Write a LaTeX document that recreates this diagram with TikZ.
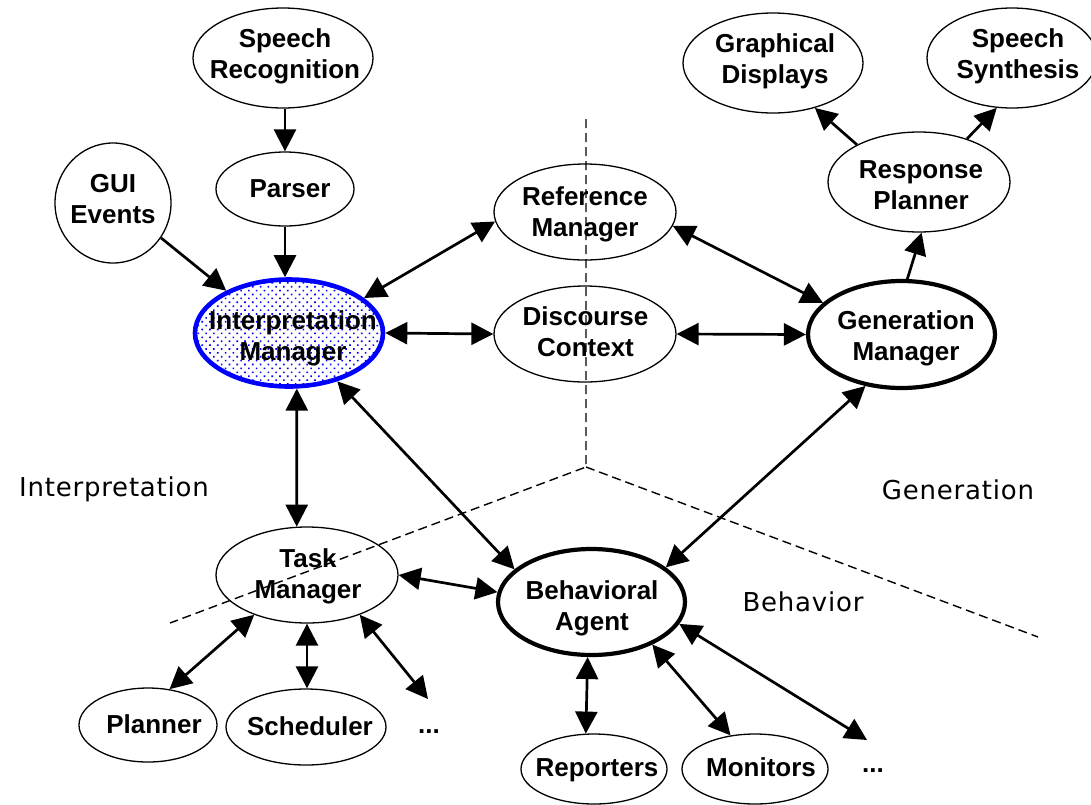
\documentclass[tikz,border=0pt]{standalone}
\usepackage{fontspec}
\setmainfont{Liberation Sans}
\newfontfamily\labelfont[LetterSpace=3]{DejaVu Sans}
\usetikzlibrary{shapes.geometric,arrows.meta,patterns.meta}
\begin{document}
\begin{tikzpicture}[x=1pt,y=-1pt,
  ell/.style={draw, ellipse, line width=1.3pt, inner sep=0pt},
  bigell/.style={draw, ellipse, line width=4.2pt, inner sep=0pt},
  imell/.style={draw=blue, ellipse, line width=4.6pt, inner sep=0pt,
    pattern={Dots[distance=5.5pt, angle=45, radius=1.15pt]}, pattern color=blue},
  txt/.style={font=\bfseries\fontsize{26}{31}\selectfont, align=center, text height=19pt, text depth=0pt, inner sep=0pt},
  txttwo/.style={txt, text height=50pt},
  lab/.style={font=\labelfont\fontsize{26}{31}\selectfont, text height=19pt, text depth=0pt, inner sep=0pt},
  arr/.style={line width=2.7pt, -{Triangle[length=22pt,width=22pt]}},
  darr/.style={line width=2.7pt, {Triangle[length=22pt,width=22pt]}-{Triangle[length=22pt,width=22pt]}},
  divider/.style={line width=1.4pt, dash pattern=on 9pt off 5pt}
]
\useasboundingbox (0,0) rectangle (1091,804);

% dividers
\coordinate (dtop) at (586,119);
\coordinate (dmid) at (586,467);
\coordinate (dleft) at (170,623);
\coordinate (dright) at (1038,637);
\draw[divider] (dtop) -- (dmid) -- (dleft);
\draw[divider] (dmid) -- (dright);

% ellipses
\node[ell, minimum width=180pt, minimum height=100pt] (sr) at (283,58) {};
\node[ell, minimum width=138pt, minimum height=74pt] (parser) at (285,189) {};
\node[ell, minimum width=116pt, minimum height=120pt] (gui) at (113,203) {};
\node[imell, minimum width=188pt, minimum height=107pt] (im) at (289,333) {};
\node[ell, minimum width=182pt, minimum height=96pt] (rm) at (585,212) {};
\node[ell, minimum width=182pt, minimum height=96pt] (dc) at (585,334) {};
\node[bigell, minimum width=187pt, minimum height=107pt] (gm) at (901.5,334.5) {};
\node[ell, minimum width=182pt, minimum height=100pt] (rp) at (919,182) {};
\node[ell, minimum width=180pt, minimum height=100pt] (gd) at (773,63) {};
\node[ell, minimum width=170pt, minimum height=100pt] (ss) at (1012,58) {};
\node[ell, minimum width=182pt, minimum height=96pt] (tm) at (307,575) {};
\node[bigell, minimum width=187pt, minimum height=106pt] (ba) at (591.5,602) {};
\node[ell, minimum width=138pt, minimum height=74pt] (planner) at (148,725) {};
\node[ell, minimum width=160pt, minimum height=76pt] (sched) at (306,727) {};
\node[ell, minimum width=146pt, minimum height=70pt] (rep) at (594,769) {};
\node[ell, minimum width=146pt, minimum height=70pt] (mon) at (755,769) {};

% texts
\node[txttwo] (sr-t) at (285,53) {Speech\\Recognition};
\node[txt] (parser-t) at (290,188) {Parser};
\node[txttwo] (gui-t) at (113,198.5) {GUI\\Events};
\node[txttwo] (im-t) at (293,335) {Interpretation\\Manager};
\node[txttwo] (rm-t) at (585,211) {Reference\\Manager};
\node[txttwo] (dc-t) at (585.5,331.5) {Discourse\\Context};
\node[txttwo] (gm-t) at (906,335) {Generation\\Manager};
\node[txttwo] (rp-t) at (921,184) {Response\\Planner};
\node[txttwo] (gd-t) at (775,58) {Graphical\\Displays};
\node[txttwo] (ss-t) at (1018,53.5) {Speech\\Synthesis};
\node[txttwo] (tm-t) at (308,573) {Task\\Manager};
\node[txttwo] (ba-t) at (592,605.5) {Behavioral\\Agent};
\node[txt] (planner-t) at (154,724) {Planner};
\node[txt] (sched-t) at (310,726) {Scheduler};
\node[txt] (dots1) at (429,723.5) {...};
\node[txt] (rep-t) at (597,767) {Reporters};
\node[txt] (mon-t) at (761,767) {Monitors};
\node[txt] (dots2) at (873,762.5) {...};

% region labels
\node[lab] (lab-i) at (114,487) {Interpretation};
\node[lab] (lab-g) at (958,490) {Generation};
\node[lab] (lab-b) at (803,602) {Behavior};

% free ends
\coordinate (e1) at (428,699);
\coordinate (e2) at (867,740);

% connectors
\draw[arr] (sr.south -| parser.north) -- (parser.north);
\draw[arr] (parser.south) -- (im.north -| parser.south);
\draw[arr] (gui.-36) -- (im.146);
\draw[darr] (im.25) -- (rm.186);
\draw[darr] (im.east) -- (dc.west);
\draw[darr] (dc.east) -- (gm.west);
\draw[darr] (rm.-9) -- (gm.158);
\draw[arr] (gm.84) -- (rp.-87);
\draw[arr] (rp.149) -- (gd.-47);
\draw[arr] (rp.42) -- (ss.-107);
\draw[darr] (im.-82) -- (tm.102);
\draw[darr] (im.-45) -- (ba.157);
\draw[darr] (tm.east) -- (ba.174);
\draw[darr] (gm.-125) -- (ba.25);
\draw[darr] (tm.-143) -- (planner.59);
\draw[darr] (tm.south) -- (tm.south |- sched.north);
\draw[darr] (tm.-37) -- (e1);
\draw[darr] (ba.-94) -- (rep.103);
\draw[darr] (ba.-35) -- (mon.126);
\draw[darr] (ba.-14) -- (e2);
\end{tikzpicture}
\end{document}
